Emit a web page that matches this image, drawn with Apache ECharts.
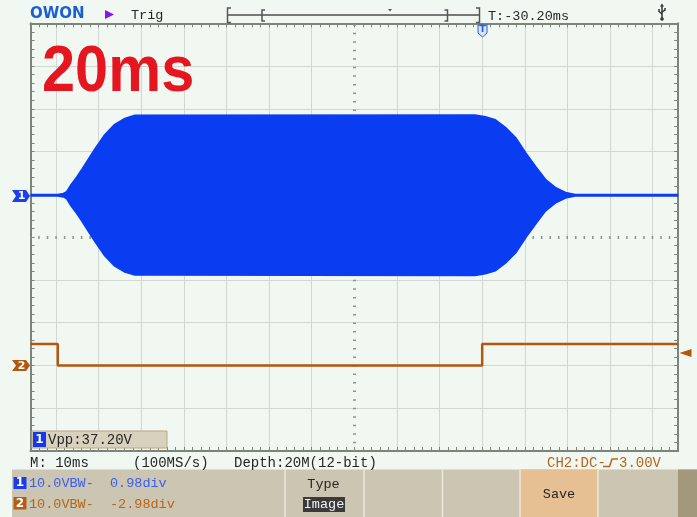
<!DOCTYPE html>
<html><head><meta charset="utf-8">
<script src="https://cdn.jsdelivr.net/npm/echarts@6/dist/echarts.min.js"></script>
<style>html,body{margin:0;padding:0;background:#f1f8f1}#c{width:697px;height:517px}</style>
</head><body><div id="c"></div>
<script>
// ---- data (time in ms from screen centre, volts; 10 ms/div, 10 V/div) ----
const timeCh1 = [-76, -69.6, -68.2, -67.4, -66.4, -65.0, -63.7, -60.9, -58.5, -56.2, -53.8, -51.5, 28.3, 30.7, 33.0, 35.4, 37.8, 40.1, 42.5, 44.8, 47.2, 49.5, 51.8, 76];
const ampCh1  = [0, 0, 0.25, 0.7, 2.3, 4.2, 6.1, 10.5, 14.0, 16.4, 17.8, 18.5, 18.6, 18.2, 17.5, 15.7, 13.3, 9.8, 6.5, 3.5, 1.6, 0.5, 0, 0];
const ch1Offset = 9.8;    // 0.98 div
const timeCh2  = [-76, -69.6, -69.6, 30.0, 30.0, 76];
const levelCh2 = [4.8, 4.8, -0.2, -0.2, 4.8, 4.8];
const ch2Offset = -29.8;  // -2.98 div

const BLUE = '#0a3cf2', BROWN = '#b4560e', GRID = '#d3d7d2', BORDER = '#7c857a', BG = '#f1f8f1';
const MONO = '"Liberation Mono", "DejaVu Sans Mono", monospace';

const xGridColors = [];
for (let v = -76; v <= 76; v += 2) xGridColors.push(v % 10 === 0 && v !== 0 ? GRID : 'rgba(0,0,0,0)');
const yGridColors = [];
for (let v = -50; v <= 50; v += 10) yGridColors.push(v !== 0 ? GRID : 'rgba(0,0,0,0)');

function txt(x, y, s, opt) {
  opt = opt || {};
  return {type: 'text', x: x, y: y, z: 100, scaleX: opt.scaleX || 1,
    style: {text: s, font: opt.font || ('13.5px ' + MONO), fill: opt.fill || '#262626',
      align: opt.align || 'left', textAlign: opt.align || 'left',
      verticalAlign: 'middle', textVerticalAlign: 'middle'}};
}
function poly(pts, fill, stroke, lw) {
  return {type: 'polygon', z: 100, shape: {points: pts}, style: {fill: fill, stroke: stroke || null, lineWidth: lw || 0}};
}
function pline(pts, stroke, lw) {
  return {type: 'polyline', z: 100, shape: {points: pts}, style: {fill: null, stroke: stroke, lineWidth: lw || 1}};
}
function rect(x, y, w, h, fill, stroke) {
  return {type: 'rect', z: 99, shape: {x: x, y: y, width: w, height: h}, style: {fill: fill, stroke: stroke || null, lineWidth: stroke ? 1 : 0}};
}

const tickStyle = {color: BORDER, width: 1};
const axisCommonX = {type: 'value', min: -76, max: 76, interval: 2,
  axisLine: {show: true, onZero: false, lineStyle: {color: BORDER, width: 2}},
  axisTick: {show: true, inside: true, length: 4, lineStyle: tickStyle},
  axisLabel: {show: false}};
const axisCommonY = {type: 'value', min: -50, max: 50, interval: 10,
  axisLine: {show: true, onZero: false, lineStyle: {color: BORDER, width: 2}},
  axisTick: {show: true, inside: true, length: 4, lineStyle: tickStyle},
  minorTick: {show: true, splitNumber: 5, length: 4, lineStyle: tickStyle},
  axisLabel: {show: false}};

const graphics = [
  // top bar
  txt(30, 14.5, 'OWON', {font: 'bold 15px "DejaVu Sans"', fill: '#1b5fd6'}),
  poly([[105, 10], [114, 14.5], [105, 19]], '#8a12f0'),
  txt(131, 15, 'Trig'),
  pline([[231, 8], [227.5, 8], [227.5, 22.5], [231, 22.5]], '#555', 1.5),
  pline([[228, 15], [479, 15]], '#777', 2),
  pline([[265, 10], [262, 10], [262, 21], [265, 21]], '#555', 1.5),
  pline([[444.5, 10], [447.5, 10], [447.5, 21], [444.5, 21]], '#555', 1.5),
  pline([[476, 8], [479.5, 8], [479.5, 22.5], [476, 22.5]], '#555', 1.5),
  poly([[388, 9], [392, 9], [390, 11.5]], '#555'),
  txt(488, 16, 'T:-30.20ms'),
  // usb icon
  pline([[662, 5], [662, 19]], '#333', 1.5),
  pline([[662, 14], [659, 11.5], [659, 9]], '#333', 1.5),
  pline([[662, 12], [665, 10], [665, 8]], '#333', 1.5),
  {type: 'circle', z: 100, shape: {cx: 662, cy: 19, r: 1.8}, style: {fill: '#333'}},
  poly([[660, 6.5], [664, 6.5], [662, 3.5]], '#333'),
  // trigger position marker
  poly([[478, 25], [487, 25], [487, 33], [482.5, 37], [478, 33]], '#d8e6ff', '#2a5be0', 1),
  txt(482.5, 30, 'T', {font: 'bold 9px "DejaVu Sans"', fill: '#2a5be0', align: 'center'}),
  // big label
  txt(42, 73, '20ms', {font: 'bold 64px "Liberation Sans"', fill: '#e5161f', scaleX: 0.93}),
  // channel markers
  poly([[12, 190], [26, 190], [30, 196], [26, 202], [12, 202], [16, 196]], '#1c3ff0'),
  txt(21.5, 196.5, '1', {font: 'bold 11px "DejaVu Sans"', fill: '#fff', align: 'center'}),
  poly([[12, 360], [26, 360], [30, 365.5], [26, 371], [12, 371], [16, 365.5]], BROWN),
  txt(21.5, 366, '2', {font: 'bold 11px "DejaVu Sans"', fill: '#fff', align: 'center'}),
  poly([[679.5, 353], [691.5, 349], [691.5, 357]], BROWN),
  // Vpp box
  rect(32, 431, 135, 17, '#d8d1bd', '#b9a887'),
  rect(33, 432, 13, 15, '#1437ee'),
  txt(39.5, 440, '1', {font: 'bold 12px "DejaVu Sans"', fill: '#fff', align: 'center'}),
  txt(48, 440, 'Vpp:37.20V', {font: '14px ' + MONO}),
  // info row
  txt(30, 463, 'M: 10ms', {font: '14px ' + MONO}),
  txt(133, 463, '(100MS/s)', {font: '14px ' + MONO}),
  txt(234, 463, 'Depth:20M(12-bit)', {font: '14px ' + MONO}),
  txt(547, 463, 'CH2:DC-', {font: '14px ' + MONO, fill: '#b8641c'}),
  pline([[603, 466.5], [609.5, 466.5], [612, 459], [618, 459]], '#b8641c', 1.5),
  txt(619, 463, '3.00V', {font: '14px ' + MONO, fill: '#b8641c'}),
  // bottom panel
  rect(12, 469.5, 685, 47.5, '#cbc5b1'),
  rect(520, 469.5, 78, 47.5, '#e6bf92'),
  rect(678, 469.5, 19, 47.5, '#a3977c'),
  pline([[285, 469.5], [285, 517]], '#ece8dc', 1.5),
  pline([[364, 469.5], [364, 517]], '#ece8dc', 1.5),
  pline([[442.5, 469.5], [442.5, 517]], '#ece8dc', 1.5),
  pline([[520, 469.5], [520, 517]], '#ece8dc', 1.5),
  pline([[598, 469.5], [598, 517]], '#ece8dc', 1.5),
  rect(13.5, 477, 13, 12, '#1a3cf0'),
  txt(20, 483, '1', {font: 'bold 12px "DejaVu Sans"', fill: '#fff', align: 'center'}),
  txt(29, 483, '10.0VBW-  0.98div', {fill: '#3b5ef0'}),
  rect(13.5, 497, 13, 12.5, '#b55d12'),
  txt(20, 503.5, '2', {font: 'bold 12px "DejaVu Sans"', fill: '#fff', align: 'center'}),
  txt(29, 504, '10.0VBW-  -2.98div', {fill: '#b8641c'}),
  txt(323.5, 484, 'Type', {align: 'center'}),
  rect(303, 497, 42, 15, '#3a3a3a'),
  txt(324, 504.5, 'Image', {align: 'center', fill: '#f2f2f2'}),
  txt(559, 494, 'Save', {align: 'center'})
];

const chart = echarts.init(document.getElementById('c'), null, {renderer: 'canvas'});
chart.setOption({
  animation: false,
  backgroundColor: BG,
  grid: {left: 30.5, right: 18.8, top: 23.3, bottom: 66, containLabel: false},
  xAxis: [
    Object.assign({}, axisCommonX, {position: 'bottom', splitLine: {show: true, lineStyle: {color: xGridColors, width: 1}}}),
    Object.assign({}, axisCommonX, {position: 'top', splitLine: {show: false}})
  ],
  yAxis: [
    Object.assign({}, axisCommonY, {position: 'left', splitLine: {show: true, lineStyle: {color: yGridColors, width: 1}}}),
    Object.assign({}, axisCommonY, {position: 'right', splitLine: {show: false}})
  ],
  series: [
    {
      type: 'custom', name: 'CH1', xAxisIndex: 0, yAxisIndex: 0, silent: true, z: 3,
      data: timeCh1.map((t, i) => [t, ampCh1[i]]),
      renderItem: function (params, api) {
        if (params.dataIndexInside !== 0) return null;
        const up = [], lo = [];
        for (let i = 0; i < timeCh1.length; i++) {
          up.push(api.coord([timeCh1[i], ch1Offset + ampCh1[i]]));
          lo.push(api.coord([timeCh1[i], ch1Offset - ampCh1[i]]));
        }
        return {type: 'polygon', shape: {points: up.concat(lo.reverse())},
          style: {fill: BLUE, stroke: BLUE, lineWidth: 3}};
      }
    },
    {
      type: 'line', name: 'CH2', xAxisIndex: 0, yAxisIndex: 0, z: 4,
      showSymbol: false, silent: true,
      data: timeCh2.map((t, i) => [t, ch2Offset + levelCh2[i]]),
      lineStyle: {color: BROWN, width: 2.5},
      markLine: {silent: true, symbol: 'none', label: {show: false}, z: 1,
        lineStyle: {color: '#8c948a', width: 3, type: [1.5, 7.02], dashOffset: 0.75},
        emphasis: {disabled: true},
        data: [{xAxis: 0}, {yAxis: 0}]}
    }
  ],
  graphic: {elements: graphics}
});
</script></body></html>
